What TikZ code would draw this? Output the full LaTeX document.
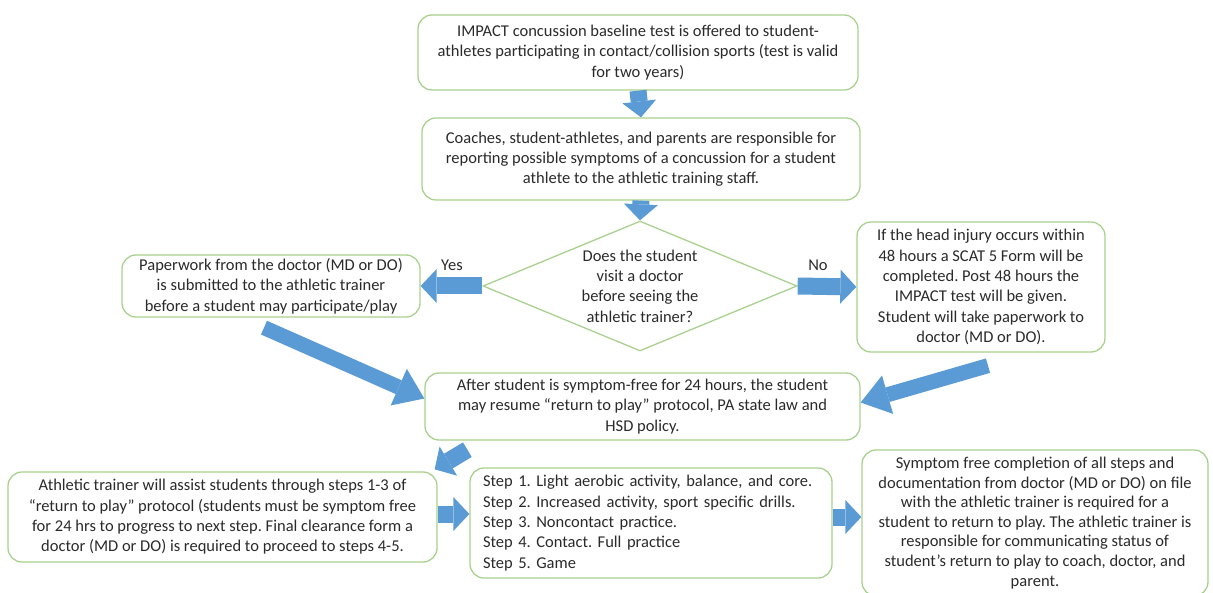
\documentclass[tikz,border=0pt]{standalone}
\usepackage{fontspec}
\setmainfont{Carlito}
\usepackage{tikz}
\usetikzlibrary{shapes.geometric,arrows.meta}
\definecolor{boxgreen}{HTML}{A9D18E}
\definecolor{arrowblue}{HTML}{5B9BD5}
\definecolor{txtgray}{HTML}{2A2A2A}
\frenchspacing

\begin{document}
\begin{tikzpicture}[x=1pt,y=-1pt,
  txt/.style={text=txtgray,font=\fontsize{16.5}{20.3}\selectfont},
  box/.style={txt,draw=boxgreen,line width=1.3pt,rounded corners=14pt,align=center,inner sep=0pt},
  fat/.style={draw=arrowblue,line width=17pt,-{Triangle[width=34pt,length=16pt,line width=0pt]}},
  longfat/.style={draw=arrowblue,line width=15pt,-{Triangle[width=40pt,length=28pt,line width=0pt]}}]
\useasboundingbox (0,0) rectangle (1213,593);
\node[box,minimum width=440pt,minimum height=75pt] (base) at (638,52.5)
  {IMPACT concussion baseline test is offered to student-\\athletes participating in contact/collision sports (test is valid\\for two years)};
\node[box,minimum width=438pt,minimum height=82pt] (report) at (641,159)
  {Coaches, student-athletes, and parents are responsible for\\reporting possible symptoms of a concussion for a student\\athlete to the athletic training staff.};
\node[txt,diamond,aspect=2.4,draw=boxgreen,line width=1.3pt,inner sep=0pt,align=center,
  minimum width=314pt,minimum height=130pt] (visit) at (640,286)
  {Does the student\\visit a doctor\\before seeing the\\athletic trainer?};
\node[box,minimum width=298pt,minimum height=62pt] (paper) at (271,286)
  {Paperwork from the doctor (MD or DO)\\is submitted to the athletic trainer\\before a student may participate/play};
\node[box,minimum width=248pt,minimum height=130pt] (scat) at (981,287)
  {If the head injury occurs within\\48 hours a SCAT 5 Form will be\\completed. Post 48 hours the\\IMPACT test will be given.\\Student will take paperwork to\\doctor (MD or DO).};
\node[txt] (yes) at (452,265) {Yes};
\node[txt] (no) at (818,265) {No};
\node[box,minimum width=435pt,minimum height=67pt] (after) at (642.5,406.5)
  {After student is symptom-free for 24 hours, the student\\may resume ``return to play'' protocol, PA state law and\\HSD policy.};
\node[box,minimum width=429pt,minimum height=90pt] (trainer) at (222.5,517)
  {Athletic trainer will assist students through steps 1-3 of\\``return to play'' protocol (students must be symptom free\\for 24 hrs to progress to next step. Final clearance form a\\doctor (MD or DO) is required to proceed to steps 4-5.};
\node[box,minimum width=362pt,minimum height=110pt,text width=336pt,align=left] (steps) at (651,523)
  {Step 1. Light aerobic activity, balance, and core.\\Step 2. Increased activity, sport specific drills.\\Step 3. Noncontact practice.\\Step 4. Contact. Full practice\\Step 5. Game};
\node[box,font=\fontsize{16.5}{19.6}\selectfont,minimum width=346pt,minimum height=146pt] (final) at (1035,523)
  {Symptom free completion of all steps and\\documentation from doctor (MD or DO) on file\\with the athletic trainer is required for a\\student to return to play. The athletic trainer is\\responsible for communicating status of\\student's return to play to coach, doctor, and\\parent.};
% block arrows
\draw[fat] (base.south) -- (report.north);
\draw[fat] (report.south) -- (visit.north);
\draw[fat] (visit.west) -- (paper.east);
\draw[fat] (visit.east) -- (scat.west);
\draw[longfat] ([xshift=-7pt,yshift=-10pt]paper.south) -- ([yshift=8pt]after.west);
\draw[longfat] ([xshift=7pt,yshift=-13pt]scat.south) -- ([yshift=4pt]after.east);
\draw[fat] ([xshift=43pt,yshift=-9pt]after.south west) -- ([xshift=-3pt,yshift=2pt]trainer.north east);
\draw[fat] ([yshift=3pt]trainer.east) -- ([yshift=3pt]trainer.east -| steps.west);
\draw[fat] ([yshift=6pt]steps.east) -- ([yshift=6pt]steps.east -| final.west);
\end{tikzpicture}
\end{document}
